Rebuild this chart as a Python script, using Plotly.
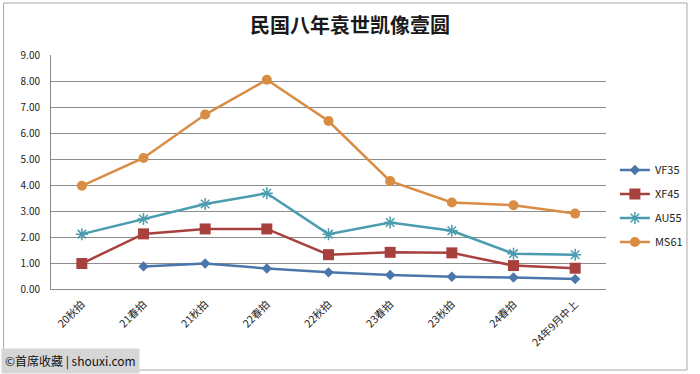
import plotly.graph_objects as go

categories = ["20秋拍", "21春拍", "21秋拍", "22春拍", "22秋拍", "23春拍", "23秋拍", "24春拍", "24年9月中上"]
vf35 = [None, 0.87, 0.98, 0.79, 0.64, 0.54, 0.47, 0.44, 0.38]
xf45 = [0.98, 2.12, 2.31, 2.31, 1.32, 1.41, 1.39, 0.90, 0.80]
au55 = [2.11, 2.69, 3.27, 3.68, 2.11, 2.56, 2.24, 1.36, 1.32]
ms61 = [3.97, 5.04, 6.71, 8.05, 6.46, 4.15, 3.33, 3.22, 2.90]
yticks = [0, 1, 2, 3, 4, 5, 6, 7, 8, 9]

W, H = 700, 374
L, R, T, B = 51, 613, 55, 289
pw, ph = R - L, B - T

def px(x):
    return (x - L) / pw

def py(y):
    return (B - y) / ph

fig = go.Figure()
series = [
    ("VF35", vf35, "#4A76AC", "diamond", 8),
    ("XF45", xf45, "#A8403E", "square", 11),
    ("AU55", au55, "#4A9CAE", "asterisk-open", 10),
    ("MS61", ms61, "#D98C44", "circle", 10),
]
for name, vals, color, sym, size in series:
    fig.add_trace(go.Scatter(
        x=categories, y=vals, name=name, mode="lines+markers", legendgroup=name,
        line=dict(color=color, width=2.5),
        marker=dict(symbol=sym, size=size, color=color,
                    line=dict(color=color, width=1.5 if sym == "asterisk-open" else 0)),
        connectgaps=False,
    ))

fig.update_layout(
    width=W, height=H,
    margin=dict(l=L, r=W - R, t=T, b=H - B),
    paper_bgcolor="white", plot_bgcolor="white",
    font=dict(family="Noto Sans CJK SC, Noto Sans, sans-serif", size=10, color="#222"),
    title=dict(text="<b>民国八年袁世凯像壹圆</b>", x=0.5, xanchor="center", y=1 - 26 / H, yanchor="middle",
               font=dict(size=20, color="#1a1a1a", family="Noto Sans CJK SC")),
    showlegend=True,
    legend=dict(x=px(622), xanchor="left", y=py(206), yanchor="middle",
                font=dict(size=11, color="#222"), bgcolor="rgba(0,0,0,0)",
                itemwidth=30, tracegroupgap=5),
    xaxis=dict(type="category", range=[-0.5, 8.5], showgrid=False, tickangle=-45,
               showline=True, linecolor="#888", linewidth=1, ticks="",
               tickfont=dict(size=10.5, color="#222"), fixedrange=True,
               ticklabelstandoff=4),
    yaxis=dict(range=[0, 9], tickvals=yticks, tickformat=".2f", showgrid=True,
               gridcolor="#8c8c8c", gridwidth=1, showline=True, linecolor="#888",
               linewidth=1, ticks="", zeroline=False, tickfont=dict(size=10, color="#222"),
               ticklabelstandoff=8, fixedrange=True),
)

# outer chart border
fig.add_shape(type="rect", xref="paper", yref="paper",
              x0=px(3), x1=px(695), y0=py(370), y1=py(3),
              line=dict(color="#a6a6a6", width=1), fillcolor="rgba(0,0,0,0)", layer="below")

# watermark
fig.add_annotation(xref="paper", yref="paper", x=px(0), y=py(374), xanchor="left", yanchor="bottom",
                   text="©首席收藏 | shouxi.com", showarrow=False,
                   font=dict(size=12, color="#111", family="Noto Sans CJK SC"),
                   bgcolor="#d6d6d6", borderpad=3)

fig.write_html("out.html", config={"displayModeBar": False},
               post_script="document.body.style.margin='0';document.body.style.overflow='hidden';")
